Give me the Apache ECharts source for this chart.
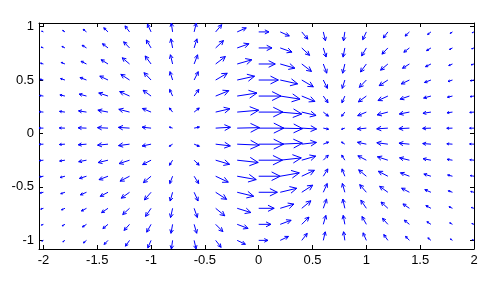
<!DOCTYPE html>
<html>
<head>
<meta charset="utf-8">
<script src="https://cdn.jsdelivr.net/npm/echarts@6/dist/echarts.min.js"></script>
<style>
html,body{margin:0;padding:0;background:#fff;}
#chart{width:501px;height:282px;}
</style>
</head>
<body>
<div id="chart"></div>
<script>
// Grid positions (x across, y up)
const xs = [-2,-1.8,-1.6,-1.4,-1.2,-1,-0.8,-0.6,-0.4,-0.2,0,0.2,0.4,0.6,0.8,1,1.2,1.4,1.6,1.8,2];
const ys = [-1,-0.85,-0.7,-0.55,-0.4,-0.25,-0.1,0.05,0.2,0.35,0.5,0.65,0.8,0.95];

// Horizontal vector components, one row per y value
const U = [
[-0.062,-0.080,-0.117,-0.148,-0.157,-0.126,-0.047,0.074,0.208,0.313,0.353,0.313,0.208,0.074,-0.047,-0.126,-0.157,-0.148,-0.117,-0.080,-0.062],
[-0.082,-0.106,-0.154,-0.195,-0.207,-0.167,-0.062,0.098,0.275,0.414,0.466,0.414,0.275,0.098,-0.062,-0.167,-0.207,-0.195,-0.154,-0.106,-0.082],
[-0.104,-0.133,-0.194,-0.246,-0.261,-0.211,-0.078,0.124,0.347,0.522,0.589,0.522,0.347,0.124,-0.078,-0.211,-0.261,-0.246,-0.194,-0.133,-0.104],
[-0.125,-0.161,-0.234,-0.297,-0.315,-0.254,-0.094,0.150,0.418,0.630,0.710,0.630,0.418,0.150,-0.094,-0.254,-0.315,-0.297,-0.234,-0.161,-0.125],
[-0.144,-0.185,-0.270,-0.342,-0.364,-0.293,-0.108,0.173,0.482,0.726,0.819,0.726,0.482,0.173,-0.108,-0.293,-0.364,-0.342,-0.270,-0.185,-0.144],
[-0.159,-0.204,-0.298,-0.377,-0.401,-0.323,-0.119,0.190,0.532,0.801,0.903,0.801,0.532,0.190,-0.119,-0.323,-0.401,-0.377,-0.298,-0.204,-0.159],
[-0.168,-0.215,-0.314,-0.398,-0.422,-0.340,-0.126,0.200,0.560,0.844,0.951,0.844,0.560,0.200,-0.126,-0.340,-0.422,-0.398,-0.314,-0.215,-0.168],
[-0.169,-0.217,-0.316,-0.401,-0.426,-0.343,-0.127,0.202,0.565,0.850,0.958,0.850,0.565,0.202,-0.127,-0.343,-0.426,-0.401,-0.316,-0.217,-0.169],
[-0.163,-0.209,-0.304,-0.386,-0.410,-0.330,-0.122,0.195,0.544,0.819,0.923,0.819,0.544,0.195,-0.122,-0.330,-0.410,-0.386,-0.304,-0.209,-0.163],
[-0.150,-0.193,-0.280,-0.355,-0.377,-0.304,-0.112,0.179,0.501,0.754,0.850,0.754,0.501,0.179,-0.112,-0.304,-0.377,-0.355,-0.280,-0.193,-0.150],
[-0.132,-0.170,-0.247,-0.313,-0.332,-0.268,-0.099,0.158,0.441,0.664,0.748,0.664,0.441,0.158,-0.099,-0.268,-0.332,-0.313,-0.247,-0.170,-0.132],
[-0.111,-0.143,-0.208,-0.263,-0.280,-0.225,-0.083,0.133,0.371,0.558,0.630,0.558,0.371,0.133,-0.083,-0.225,-0.280,-0.263,-0.208,-0.143,-0.111],
[-0.089,-0.115,-0.167,-0.212,-0.225,-0.181,-0.067,0.107,0.299,0.449,0.507,0.449,0.299,0.107,-0.067,-0.181,-0.225,-0.212,-0.167,-0.115,-0.089],
[-0.069,-0.088,-0.128,-0.163,-0.173,-0.139,-0.051,0.082,0.230,0.346,0.390,0.346,0.230,0.082,-0.051,-0.139,-0.173,-0.163,-0.128,-0.088,-0.069]
];

// Vertical vector components, one row per y value
const V = [
[-0.029,-0.055,-0.097,-0.155,-0.223,-0.289,-0.331,-0.328,-0.267,-0.151,0,0.151,0.267,0.328,0.331,0.289,0.223,0.155,0.097,0.055,0.029],
[-0.030,-0.058,-0.101,-0.161,-0.232,-0.300,-0.344,-0.342,-0.278,-0.157,0,0.157,0.278,0.342,0.344,0.300,0.232,0.161,0.101,0.058,0.030],
[-0.031,-0.060,-0.104,-0.167,-0.240,-0.311,-0.356,-0.354,-0.288,-0.162,0,0.162,0.288,0.354,0.356,0.311,0.240,0.167,0.104,0.060,0.031],
[-0.029,-0.056,-0.099,-0.157,-0.227,-0.294,-0.337,-0.334,-0.272,-0.153,0,0.153,0.272,0.334,0.337,0.294,0.227,0.157,0.099,0.056,0.029],
[-0.024,-0.047,-0.083,-0.132,-0.190,-0.246,-0.282,-0.280,-0.228,-0.128,0,0.128,0.228,0.280,0.282,0.246,0.190,0.132,0.083,0.047,0.024],
[-0.017,-0.032,-0.057,-0.091,-0.131,-0.169,-0.194,-0.192,-0.157,-0.088,0,0.088,0.157,0.192,0.194,0.169,0.131,0.091,0.057,0.032,0.017],
[-0.007,-0.014,-0.024,-0.038,-0.055,-0.071,-0.082,-0.081,-0.066,-0.037,0,0.037,0.066,0.081,0.082,0.071,0.055,0.038,0.024,0.014,0.007],
[0.004,0.007,0.012,0.019,0.028,0.036,0.041,0.041,0.033,0.019,0,-0.019,-0.033,-0.041,-0.041,-0.036,-0.028,-0.019,-0.012,-0.007,-0.004],
[0.014,0.027,0.047,0.074,0.107,0.138,0.159,0.157,0.128,0.072,0,-0.072,-0.128,-0.157,-0.159,-0.138,-0.107,-0.074,-0.047,-0.027,-0.014],
[0.022,0.043,0.075,0.120,0.172,0.223,0.256,0.254,0.207,0.117,0,-0.117,-0.207,-0.254,-0.256,-0.223,-0.172,-0.120,-0.075,-0.043,-0.022],
[0.028,0.054,0.095,0.151,0.217,0.281,0.322,0.320,0.261,0.147,0,-0.147,-0.261,-0.320,-0.322,-0.281,-0.217,-0.151,-0.095,-0.054,-0.028],
[0.031,0.059,0.104,0.165,0.238,0.308,0.354,0.351,0.286,0.161,0,-0.161,-0.286,-0.351,-0.354,-0.308,-0.238,-0.165,-0.104,-0.059,-0.031],
[0.031,0.059,0.103,0.164,0.237,0.306,0.351,0.349,0.284,0.160,0,-0.160,-0.284,-0.349,-0.351,-0.306,-0.237,-0.164,-0.103,-0.059,-0.031],
[0.030,0.057,0.100,0.160,0.231,0.299,0.342,0.340,0.277,0.156,0,-0.156,-0.277,-0.340,-0.342,-0.299,-0.231,-0.160,-0.100,-0.057,-0.030]
];

const xTicks = [-2,-1.5,-1,-0.5,0,0.5,1,1.5,2];
const yTicks = [-1,-0.5,0,0.5,1];

// ---- quiver auto-scaling (display only) ----
const n = Math.sqrt(xs.length * ys.length);
const delx = (Math.max(...xs) - Math.min(...xs)) / n;
const dely = (Math.max(...ys) - Math.min(...ys)) / n;
const del = delx * delx + dely * dely;
let maxlen = 0;
for (let j = 0; j < ys.length; j++) for (let i = 0; i < xs.length; i++) {
  const l = Math.sqrt((U[j][i] * U[j][i] + V[j][i] * V[j][i]) / del);
  if (l > maxlen) maxlen = l;
}
const s = 0.9 / maxlen;
const ALPHA = 0.4, BETA = 0.5;

function arrowPts(x, y, u, v) {
  const tx = x + u, ty = y + v;
  return {
    tail: [x, y], tip: [tx, ty],
    b1: [tx - ALPHA * (u + BETA * v), ty - ALPHA * (v - BETA * u)],
    b2: [tx - ALPHA * (u - BETA * v), ty - ALPHA * (v + BETA * u)]
  };
}

const data = [];
let xMin = Infinity, xMax = -Infinity, yMin = Infinity, yMax = -Infinity;
for (let j = 0; j < ys.length; j++) for (let i = 0; i < xs.length; i++) {
  const u = U[j][i] * s, v = V[j][i] * s;
  data.push([xs[i], ys[j], u, v]);
  [[xs[i], ys[j]], [xs[i] + u, ys[j] + v]].forEach(q => {
    xMin = Math.min(xMin, q[0]); xMax = Math.max(xMax, q[0]);
    yMin = Math.min(yMin, q[1]); yMax = Math.max(yMax, q[1]);
  });
}

const FONT = 'Liberation Sans, Arial, Helvetica, sans-serif';
const chart = echarts.init(document.getElementById('chart'), null, {renderer: 'canvas'});

function xAx(pos, showLabel) {
  return {
    type: 'value', position: pos, min: xMin, max: xMax,
    axisLine: {show: true, onZero: false, lineStyle: {color: '#000', width: 1}},
    axisTick: {show: true, inside: true, length: 4, customValues: xTicks, lineStyle: {color: '#000'}},
    axisLabel: {show: showLabel, customValues: xTicks, color: '#000', fontSize: 13, fontFamily: FONT, margin: 5},
    splitLine: {show: false}
  };
}
function yAx(pos, showLabel) {
  return {
    type: 'value', position: pos, min: yMin, max: yMax,
    axisLine: {show: true, onZero: false, lineStyle: {color: '#000', width: 1}},
    axisTick: {show: true, inside: true, length: 4, customValues: yTicks, lineStyle: {color: '#000'}},
    axisLabel: {show: showLabel, customValues: yTicks, color: '#000', fontSize: 13, fontFamily: FONT, margin: 5},
    splitLine: {show: false}
  };
}

chart.setOption({
  animation: false,
  backgroundColor: '#fff',
  grid: {left: 39, right: 27, top: 23, bottom: 33, containLabel: false},
  xAxis: [xAx('bottom', true), xAx('top', false)],
  yAxis: [yAx('left', true), yAx('right', false)],
  series: [{
    type: 'custom',
    xAxisIndex: 0, yAxisIndex: 0,
    silent: true,
    clip: false,
    data: data,
    renderItem: function (params, api) {
      const x = api.value(0), y = api.value(1), u = api.value(2), v = api.value(3);
      const p = arrowPts(x, y, u, v);
      const c = q => api.coord(q);
      const st = {stroke: '#0000ff', lineWidth: 1, fill: null};
      return {
        type: 'group',
        children: [
          {type: 'polyline', shape: {points: [c(p.tail), c(p.tip)]}, style: st},
          {type: 'polyline', shape: {points: [c(p.b1), c(p.tip), c(p.b2)]}, style: st}
        ]
      };
    }
  }]
});
</script>
</body>
</html>
